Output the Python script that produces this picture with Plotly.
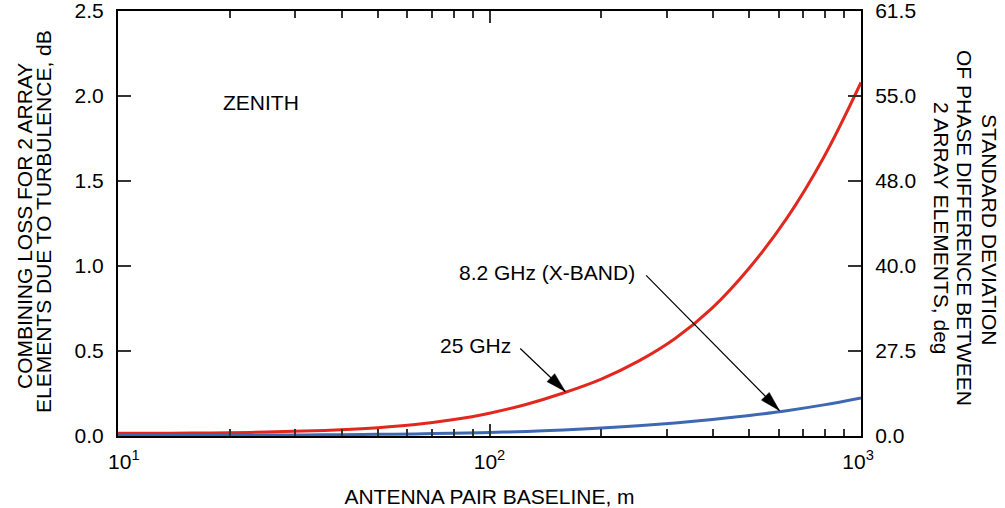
import math
import plotly.graph_objects as go

# ---- data (baseline in m, combining loss in dB) ----
baseline = [10, 12.6, 15.8, 20, 25.1, 31.6, 39.8, 50.1, 63.1, 79.4, 100,
            126, 158, 200, 251, 316, 398, 501, 631, 794, 1000]
loss_25ghz = [0.016, 0.0165, 0.0175, 0.0195, 0.023, 0.029, 0.037, 0.049, 0.067, 0.095, 0.134,
              0.187, 0.253, 0.335, 0.439, 0.574, 0.754, 0.99, 1.28, 1.64, 2.08]
loss_8ghz = [0.003, 0.0035, 0.004, 0.0045, 0.0053, 0.0065, 0.008, 0.010, 0.0125, 0.016, 0.021,
             0.027, 0.036, 0.047, 0.060, 0.077, 0.097, 0.121, 0.149, 0.183, 0.224]

x_tickvals = [10, 100, 1000]
x_ticktext = ["&nbsp;&nbsp;10<sup>1</sup>", "10<sup>2</sup>", "10<sup>3</sup>&nbsp;"]
x_minor = [20, 30, 40, 50, 60, 70, 80, 90, 200, 300, 400, 500, 600, 700, 800, 900]

loss_ticks = [0.0, 0.5, 1.0, 1.5, 2.0, 2.5]
loss_ticktext = ["0.0", "0.5", "1.0", "1.5", "2.0", "2.5"]
phase_ticktext = ["0.0", "27.5", "40.0", "48.0", "55.0", "61.5"]

FONT = "Arial, Liberation Sans, Helvetica, sans-serif"
RED = "#e2281e"
BLUE = "#3e69b2"

W, H = 1005, 508
ML, MR, MT, MB = 118, 144, 11, 72
X_RANGE = [1, 3]
Y_RANGE = [0, 2.5]

fig = go.Figure()
fig.add_trace(go.Scatter(x=baseline, y=loss_25ghz, mode="lines", name="25 GHz",
                         line=dict(color=RED, width=3, shape="spline", smoothing=1.0)))
fig.add_trace(go.Scatter(x=baseline, y=loss_8ghz, mode="lines", name="8.2 GHz (X-BAND)",
                         line=dict(color=BLUE, width=3, shape="spline", smoothing=1.0)))
# invisible trace so the right-hand axis is drawn
fig.add_trace(go.Scatter(x=[10], y=[0], yaxis="y2", mode="markers", opacity=0,
                         showlegend=False, hoverinfo="skip"))

axis_common = dict(showline=True, linewidth=2, linecolor="black", ticks="inside",
                   tickcolor="#333", tickwidth=1.5, showgrid=False, zeroline=False,
                   automargin=False, ticklabeloverflow="allow",
                   tickfont=dict(family=FONT, size=21, color="black"))

fig.update_layout(
    width=W, height=H,
    margin=dict(l=ML, r=MR, t=MT, b=MB),
    paper_bgcolor="white", plot_bgcolor="white",
    showlegend=False,
    font=dict(family=FONT, size=21, color="black"),
    xaxis=dict(type="log", range=X_RANGE, tickvals=x_tickvals, ticktext=x_ticktext,
               ticklen=12, mirror="ticks", ticklabelstandoff=6,
               minor=dict(tickvals=x_minor, ticks="inside", ticklen=7, tickwidth=1.5,
                          tickcolor="#333", showgrid=False),
               title=dict(text="ANTENNA PAIR BASELINE, m", standoff=19,
                          font=dict(family=FONT, size=21)),
               **axis_common),
    yaxis=dict(range=Y_RANGE, tickvals=loss_ticks, ticktext=loss_ticktext,
               ticklen=13, ticklabelstandoff=8, **axis_common),
    yaxis2=dict(range=Y_RANGE, overlaying="y", side="right", tickvals=loss_ticks,
                ticktext=phase_ticktext, ticklen=13, ticklabelstandoff=8, **axis_common),
)

lx = math.log10
plot_mid_y = MT + (H - MT - MB) / 2
annotations = []
# left axis title (two lines, tight leading); positions in page pixels
for text, px, py in [("COMBINING LOSS FOR 2 ARRAY", 24, 226),
                     ("ELEMENTS DUE TO TURBULENCE, dB", 43, 222)]:
    annotations.append(dict(text=text, xref="paper", yref="paper", x=0, y=0.5,
                            xshift=px - ML, yshift=plot_mid_y - py,
                            textangle=-90, showarrow=False,
                            xanchor="center", yanchor="middle",
                            font=dict(family=FONT, size=21, color="black")))
# right axis title (three lines)
for text, px, py in [("STANDARD DEVIATION", 990, 229), ("OF PHASE DIFFERENCE BETWEEN", 965, 228),
                     ("2 ARRAY ELEMENTS, deg", 942, 228)]:
    annotations.append(dict(text=text, xref="paper", yref="paper", x=1, y=0.5,
                            xshift=px - (W - MR), yshift=plot_mid_y - py,
                            textangle=90, showarrow=False,
                            xanchor="center", yanchor="middle",
                            font=dict(family=FONT, size=21, color="black")))

annotations.append(dict(text="ZENITH", x=lx(24.2), y=1.96, xref="x", yref="y",
                        showarrow=False, font=dict(family=FONT, size=21)))
annotations.append(dict(text="25 GHz", x=lx(91.5), y=0.535, xref="x", yref="y",
                        showarrow=False, font=dict(family=FONT, size=21)))
annotations.append(dict(text="8.2 GHz (X-BAND)", x=lx(143), y=0.96, xref="x", yref="y",
                        showarrow=False, font=dict(family=FONT, size=21)))
fig.update_layout(annotations=annotations)

# pointer arrows: thin line + long narrow filled head
px_per_decade = (W - ML - MR) / (X_RANGE[1] - X_RANGE[0])
px_per_db = (H - MT - MB) / (Y_RANGE[1] - Y_RANGE[0])
HEAD_LEN, HEAD_HALF = 20, 5.5
shapes = []
for head, tail in [((160, 0.262), (121, 0.515)), ((603, 0.150), (264, 0.945))]:
    shapes.append(dict(type="line", xref="x", yref="y", x0=tail[0], y0=tail[1],
                       x1=head[0], y1=head[1], line=dict(color="black", width=1.2)))
    dx = (lx(head[0]) - lx(tail[0])) * px_per_decade
    dy = (head[1] - tail[1]) * px_per_db  # upward positive
    n = math.hypot(dx, dy)
    ux, uy = dx / n, dy / n
    bx, by = -HEAD_LEN * ux, -HEAD_LEN * uy
    nx, ny = -uy * HEAD_HALF, ux * HEAD_HALF
    path = "M0,0 L{:.2f},{:.2f} L{:.2f},{:.2f} Z".format(bx + nx, by + ny, bx - nx, by - ny)
    shapes.append(dict(type="path", xref="x", yref="y", xsizemode="pixel", ysizemode="pixel",
                       xanchor=head[0], yanchor=head[1], path=path,
                       fillcolor="black", line=dict(color="black", width=0.5)))
fig.update_layout(shapes=shapes)

# remove the default 8px page margin so the figure fills the 1005x508 window exactly
fig.write_html("out.html", config={"displayModeBar": False},
               post_script="document.body.style.margin='0px';")
